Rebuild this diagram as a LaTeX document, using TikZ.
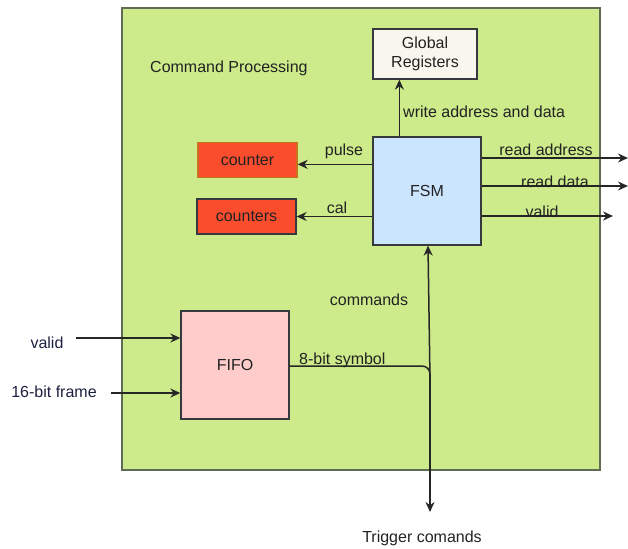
\documentclass[tikz,border=0pt]{standalone}
\usepackage{fontspec}
\setmainfont{Liberation Sans}
\usetikzlibrary{arrows.meta,positioning}
\definecolor{cpgreen}{HTML}{CDEB8B}
\definecolor{cpborder}{HTML}{5F6B55}
\definecolor{boxborder}{HTML}{36393D}
\definecolor{globfill}{HTML}{F9F7ED}
\definecolor{fsmfill}{HTML}{CCE5FF}
\definecolor{ctrfill}{HTML}{FA4D2E}
\definecolor{ctrborder}{HTML}{C8741C}
\definecolor{fifofill}{HTML}{FFCCCC}
\definecolor{txt}{HTML}{222222}
\definecolor{navy}{HTML}{1C2040}
\tikzset{
  blk/.style={draw=boxborder, line width=1.3pt, inner sep=0pt, align=center, font=\fontsize{16}{19}\selectfont, text=txt},
  lbl/.style={font=\fontsize{16}{19}\selectfont, text=txt, inner sep=0pt},
  arr/.style={line width=1.5pt, draw=black!85, -{Stealth[length=10pt,width=9pt]}},
  ln/.style={line width=1.5pt, draw=black!85}
}
\begin{document}
\begin{tikzpicture}[x=1pt,y=-1pt]
\useasboundingbox (0,0) rectangle (628,548);
\node[draw=cpborder, fill=cpgreen, line width=1.3pt, minimum width=478pt, minimum height=462pt, inner sep=0pt] (outer) at (361,239) {};
\node[lbl, anchor=west] (cp) at (150,68) {Command Processing};
\node[blk, fill=globfill, minimum width=104pt, minimum height=50pt] (glob) at (425,54) {Global\\Registers};
\node[blk, fill=fsmfill, minimum width=108pt, minimum height=108pt] (fsm) at (427,191) {FSM};
\node[blk, fill=ctrfill, draw=ctrborder, minimum width=99pt, minimum height=35pt] (ctr) at (247.5,160) {counter};
\node[blk, fill=ctrfill, minimum width=99pt, minimum height=35pt] (ctrs) at (246.5,216.5) {counters};
\node[blk, fill=fifofill, minimum width=108pt, minimum height=108pt] (fifo) at (235,365) {FIFO};

% FSM -> Global registers
\draw[arr] ([xshift=27pt]fsm.north west) -- ([xshift=27pt]fsm.north west |- glob.south);
\node[lbl, anchor=west] (wad) at (403,112) {write address and data};

% FSM -> counters
\draw[arr] ([yshift=-28pt]fsm.north west) -- ([yshift=-28pt]fsm.north west -| ctr.east);
\node[lbl] (pulse) at (344,151) {pulse};
\draw[arr] (fsm.west |- ctrs.east) -- (ctrs.east);
\node[lbl] (cal) at (337,208) {cal};

% FSM outputs
\coordinate (ra) at (628,158);
\coordinate (rd) at (628,186);
\coordinate (vo) at (613,216);
\draw[arr] (fsm.east |- ra) -- (ra);
\draw[arr] (fsm.east |- rd) -- (rd);
\draw[arr] (fsm.east |- vo) -- (vo);
\node[lbl] (lra) at (546,150) {read address};
\node[lbl] (lrd) at (555,182) {read data};
\node[lbl] (lvo) at (542,212) {valid};

% FIFO inputs
\node[lbl, text=navy] (vin) at (47,343) {valid};
\node[lbl, text=navy] (fin) at (54,392) {16-bit frame};
\coordinate (vs) at (76,338);
\coordinate (fs) at (111,393);
\draw[arr] (vs) -- (vs -| fifo.west);
\draw[arr] (fs) -- (fs -| fifo.west);

% FIFO output to trigger commands
\coordinate (jn) at (430,380);
\coordinate (tp) at (430,512);
\node[lbl] (trig) at (422,538) {Trigger comands};
\draw[ln, rounded corners=8pt] (fifo.east |- 0,366) -- (430,366) -- (jn);
\draw[arr] (jn) -- (tp);
\node[lbl, anchor=west] (sym) at (299,360) {8-bit symbol};

% commands up to FSM
\draw[arr] (jn) -- ([xshift=1pt]fsm.south);
\node[lbl] (cmds) at (369,300) {commands};
\end{tikzpicture}
\end{document}
